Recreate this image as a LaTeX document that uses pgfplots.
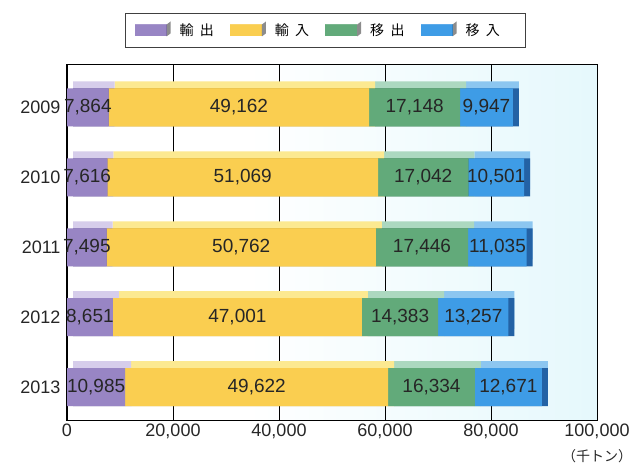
\documentclass[border=0pt]{standalone}
\usepackage{fontspec}
\setmainfont{Liberation Sans}
\newfontfamily\jp{Noto Sans CJK JP}
\usepackage{pgfplots}
\usepackage{pgfplotstable}
\pgfplotsset{compat=1.18}

% front / top / side colours
\definecolor{purp}{RGB}{152,133,196}
\definecolor{purpT}{RGB}{214,205,235}
\definecolor{purpD}{RGB}{105,88,155}
\definecolor{yel}{RGB}{250,206,80}
\definecolor{yelT}{RGB}{252,233,145}
\definecolor{yelD}{RGB}{200,160,40}
\definecolor{grn}{RGB}{98,170,122}
\definecolor{grnT}{RGB}{172,216,192}
\definecolor{grnD}{RGB}{58,118,84}
\definecolor{blu}{RGB}{62,156,230}
\definecolor{bluT}{RGB}{140,198,240}
\definecolor{bluD}{RGB}{35,98,165}
\definecolor{bgc}{RGB}{210,243,250}
\pgfdeclarehorizontalshading{bgsh}{100bp}{color(0bp)=(white); color(42bp)=(white); color(100bp)=(bgc)}

\pgfplotstableread{
year exp imp mout min
2009 7864 49162 17148 9947
2010 7616 51069 17042 10501
2011 7495 50762 17446 11035
2012 8651 47001 14383 13257
2013 10985 49622 16334 12671
}\trade

\pgfplotsset{
  base/.style={
    at={(67pt,48pt)}, anchor=south west,
    scale only axis, width=530pt, height=355pt,
    xmin=0, xmax=100000, ymin=2008.393, ymax=2013.471,
    y dir=reverse,
  },
  bars/.style={xbar stacked, bar width=38pt},
  cube legend/.style={
    legend image code/.code={
      \fill[##1] (0pt,-6pt) rectangle (32pt,6pt);
      \fill[black,opacity=.45] (32pt,-6pt) -- (36pt,-3pt) -- (36pt,9pt) -- (32pt,6pt) -- cycle;
      \fill[white,opacity=.45] (0pt,6pt) -- (4pt,9pt) -- (36pt,9pt) -- (32pt,6pt) -- cycle;
    },
  },
  vals/.style={only marks, mark=*, mark size=0pt, mark options={draw=none, fill=none},
    point meta=explicit, nodes near coords, nodes near coords align={center},
    nodes near coords={\pgfmathprintnumber[fixed, 1000 sep={,}, assume math mode=true]{\pgfplotspointmeta}},
    every node near coord/.append style={anchor=center, font=\fontsize{19}{21}\selectfont, text=black!85}},
}

\begin{document}
\begin{tikzpicture}
\useasboundingbox (0,0) rectangle (642pt,468pt);

% frame, grid, tick labels
\begin{axis}[base,
    axis background/.style={shade, shading=bgsh},
    xmajorgrids, grid style={black, line width=0.7pt},
    axis line style={black, line width=1pt},
    xtick={0,20000,40000,60000,80000,100000},
    ytick={2009,2010,2011,2012,2013},
    yticklabels={2009,2010,2011,2012,2013},
    major tick length=0pt,
    scaled x ticks=false,
    ticklabel style={font=\fontsize{18}{20}\selectfont, text=black!85},
    y tick label style={xshift=-3pt},
    x tick label style={/pgf/number format/.cd, fixed, 1000 sep={,}, assume math mode=true},
]
\end{axis}

% top faces
\begin{axis}[base, bars, at={(73pt,55pt)}, hide axis]
\addplot[fill=purpT, draw=none] table[x=exp, y=year] {\trade};
\addplot[fill=yelT, draw=none] table[x=imp, y=year] {\trade};
\addplot[fill=grnT, draw=none] table[x=mout, y=year] {\trade};
\addplot[fill=bluT, draw=none] table[x=min, y=year] {\trade};
\end{axis}

% side faces
\begin{axis}[base, bars, at={(73pt,48pt)}, hide axis]
\addplot[fill=purpD, draw=none] table[x=exp, y=year] {\trade};
\addplot[fill=yelD, draw=none] table[x=imp, y=year] {\trade};
\addplot[fill=grnD, draw=none] table[x=mout, y=year] {\trade};
\addplot[fill=bluD, draw=none] table[x=min, y=year] {\trade};
\end{axis}

% front faces and legend
\begin{axis}[base, bars, hide axis,
    legend columns=4,
    legend style={at={(0.474,1.098)}, anchor=center, draw=none, fill=none,
        font=\jp\fontsize{14}{16}\selectfont,
        /tikz/every odd column/.append style={column sep=7pt},
        /tikz/every even column/.append style={column sep=14pt}},
]
\addplot[fill=purp, draw=none, cube legend] table[x=exp, y=year] {\trade};
\addplot[fill=yel, draw=none, cube legend] table[x=imp, y=year] {\trade};
\addplot[fill=grn, draw=none, cube legend] table[x=mout, y=year] {\trade};
\addplot[fill=blu, draw=none, cube legend] table[x=min, y=year] {\trade};
\legend{輸\hspace{.45em}出, 輸\hspace{.45em}入, 移\hspace{.45em}出, 移\hspace{.45em}入}
\end{axis}

% values in the middle of each segment
\begin{axis}[base, hide axis, clip=false]
\addplot[vals] table[x expr=\thisrow{exp}/2, y=year, meta=exp] {\trade};
\addplot[vals] table[x expr=\thisrow{exp}+\thisrow{imp}/2, y=year, meta=imp] {\trade};
\addplot[vals] table[x expr=\thisrow{exp}+\thisrow{imp}+\thisrow{mout}/2, y=year, meta=mout] {\trade};
\addplot[vals] table[x expr=\thisrow{exp}+\thisrow{imp}+\thisrow{mout}+\thisrow{min}/2, y=year, meta=min] {\trade};
\end{axis}

\draw[black!75, line width=0.8pt] (125pt,421pt) rectangle (525pt,455pt);
\node[font=\jp\fontsize{14}{16}\selectfont, text=black!85] at (597pt,12pt) {（千トン）};
\end{tikzpicture}
\end{document}
